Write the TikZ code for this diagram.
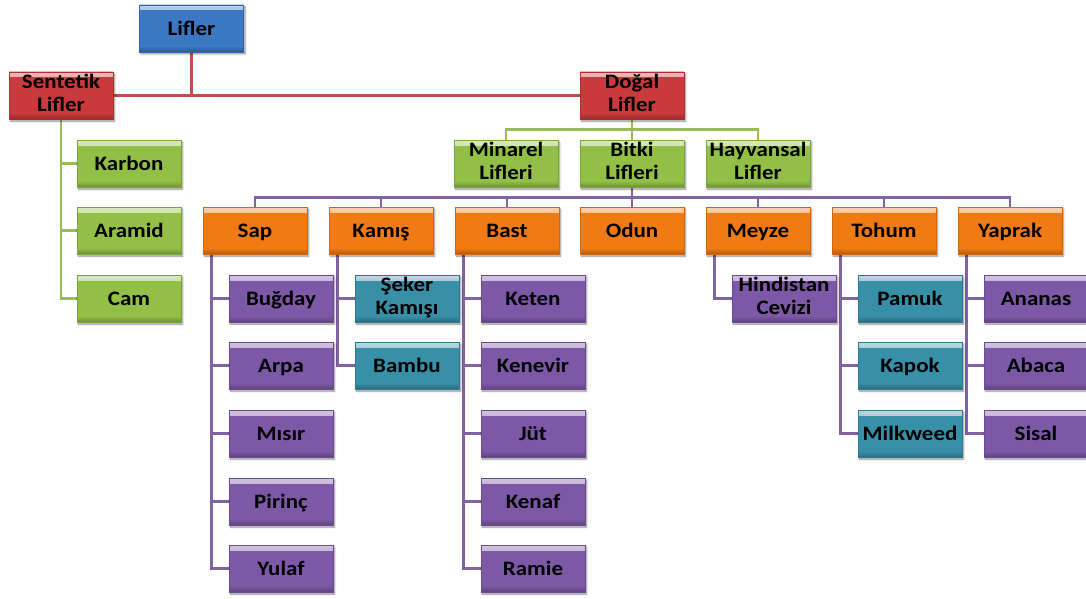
\documentclass[tikz,border=0pt]{standalone}
\usepackage{fontspec}
\setmainfont{Carlito}[FakeStretch=1.12]
\usetikzlibrary{shadows.blur,backgrounds}
\definecolor{cblue}{HTML}{3A78C4}
\definecolor{cred}{HTML}{C83A3C}
\definecolor{cgreen}{HTML}{92C046}
\definecolor{corange}{HTML}{F07A14}
\definecolor{cpurple}{HTML}{7D58A6}
\definecolor{cteal}{HTML}{3890A8}
\definecolor{lred}{HTML}{C0504D}
\definecolor{lgreen}{HTML}{9BBB59}
\definecolor{lpurple}{HTML}{8064A2}
\newcommand\bxstrut{\rule[-4.5pt]{0pt}{23pt}}
\tikzset{
  box/.style={rectangle, minimum width=104pt, minimum height=47pt, inner sep=0pt,
    align=center, font=\bfseries\fontsize{20.5}{23}\selectfont, text=black,
    execute at begin node=\bxstrut,
    fill=#1, draw=#1!85!black, line width=0.5pt,
    blur shadow={shadow xshift=1.5pt, shadow yshift=-2pt, shadow blur steps=6, shadow opacity=45},
    path picture={
      \shade[top color=#1!35!white, bottom color=#1]
        (path picture bounding box.north west) rectangle ([yshift=-5pt]path picture bounding box.north east);
      \shade[top color=#1, bottom color=#1!75!black]
        ([yshift=6pt]path picture bounding box.south west) rectangle (path picture bounding box.south east);
    }},
  conn/.style={line width=2.8pt, draw=#1},
}
\begin{document}
\begin{tikzpicture}[x=1pt,y=1pt]
\useasboundingbox (0,0) rectangle (1086,-599);
% level 0-1
\node[box=cblue] (lif) at (191.5,-28.5) {Lifler};
\node[box=cred] (sen) at (61,-95.5) {Sentetik\\\bxstrut Lifler};
\node[box=cred] (dog) at (632,-95.5) {Doğal\\\bxstrut Lifler};
% synthetic children
\node[box=cgreen] (kar) at (129,-163.5) {Karbon};
\node[box=cgreen] (ara) at (129,-230.5) {Aramid};
\node[box=cgreen] (cam) at (129,-298.5) {Cam};
% natural children
\node[box=cgreen] (min) at (506,-163.5) {Minarel\\\bxstrut Lifleri};
\node[box=cgreen] (bit) at (632,-163.5) {Bitki\\\bxstrut Lifleri};
\node[box=cgreen] (hay) at (758,-163.5) {Hayvansal\\\bxstrut Lifler};
% plant groups
\node[box=corange] (sap) at (255,-230.5) {Sap};
\node[box=corange] (kms) at (381,-230.5) {Kamış};
\node[box=corange] (bas) at (507,-230.5) {Bast};
\node[box=corange] (odu) at (632,-230.5) {Odun};
\node[box=corange] (mey) at (758,-230.5) {Meyze};
\node[box=corange] (toh) at (884,-230.5) {Tohum};
\node[box=corange] (yap) at (1010,-230.5) {Yaprak};
% Sap
\node[box=cpurple] (bug) at (281,-298.5) {Buğday};
\node[box=cpurple] (arp) at (281,-365.5) {Arpa};
\node[box=cpurple] (mis) at (281,-433.5) {Mısır};
\node[box=cpurple] (pir) at (281,-501.5) {Pirinç};
\node[box=cpurple] (yul) at (281,-568.5) {Yulaf};
% Kamis
\node[box=cteal] (sek) at (407,-298.5) {Şeker\\\bxstrut Kamışı};
\node[box=cteal] (bam) at (407,-365.5) {Bambu};
% Bast
\node[box=cpurple] (ket) at (533,-298.5) {Keten};
\node[box=cpurple] (ken) at (533,-365.5) {Kenevir};
\node[box=cpurple] (jut) at (533,-433.5) {Jüt};
\node[box=cpurple] (kef) at (533,-501.5) {Kenaf};
\node[box=cpurple] (ram) at (533,-568.5) {Ramie};
% Meyze
\node[box=cpurple] (hin) at (784,-298.5) {Hindistan\\\bxstrut Cevizi};
% Tohum
\node[box=cteal] (pam) at (910,-298.5) {Pamuk};
\node[box=cteal] (kap) at (910,-365.5) {Kapok};
\node[box=cteal] (mil) at (910,-433.5) {Milkweed};
% Yaprak
\node[box=cpurple] (ana) at (1036,-298.5) {Ananas};
\node[box=cpurple] (aba) at (1036,-365.5) {Abaca};
\node[box=cpurple] (sis) at (1036,-433.5) {Sisal};

\begin{pgfonlayer}{background}
  % red
  \draw[conn=lred] (lif.south) |- (sen.east);
  \draw[conn=lred] (lif.south) |- (dog.west);
  % green
  \foreach \c in {kar,ara,cam} \draw[conn=lgreen] (sen.south) |- (\c.west);
  \draw[conn=lgreen] (dog.south) -- (bit.north);
  \foreach \c in {min,hay} \draw[conn=lgreen] (dog.south) -- ++(0,-10) -| (\c.north);
  % purple
  \foreach \c in {sap,kms,bas,odu,mey,toh,yap} \draw[conn=lpurple] (bit.south) -- ++(0,-10) -| (\c.north);
  \foreach \c in {bug,arp,mis,pir,yul} \draw[conn=lpurple] ([xshift=9pt]sap.south west) |- (\c.west);
  \foreach \c in {sek,bam} \draw[conn=lpurple] ([xshift=9pt]kms.south west) |- (\c.west);
  \foreach \c in {ket,ken,jut,kef,ram} \draw[conn=lpurple] ([xshift=9pt]bas.south west) |- (\c.west);
  \draw[conn=lpurple] ([xshift=9pt]mey.south west) |- (hin.west);
  \foreach \c in {pam,kap,mil} \draw[conn=lpurple] ([xshift=9pt]toh.south west) |- (\c.west);
  \foreach \c in {ana,aba,sis} \draw[conn=lpurple] ([xshift=9pt]yap.south west) |- (\c.west);
\end{pgfonlayer}
\end{tikzpicture}
\end{document}
